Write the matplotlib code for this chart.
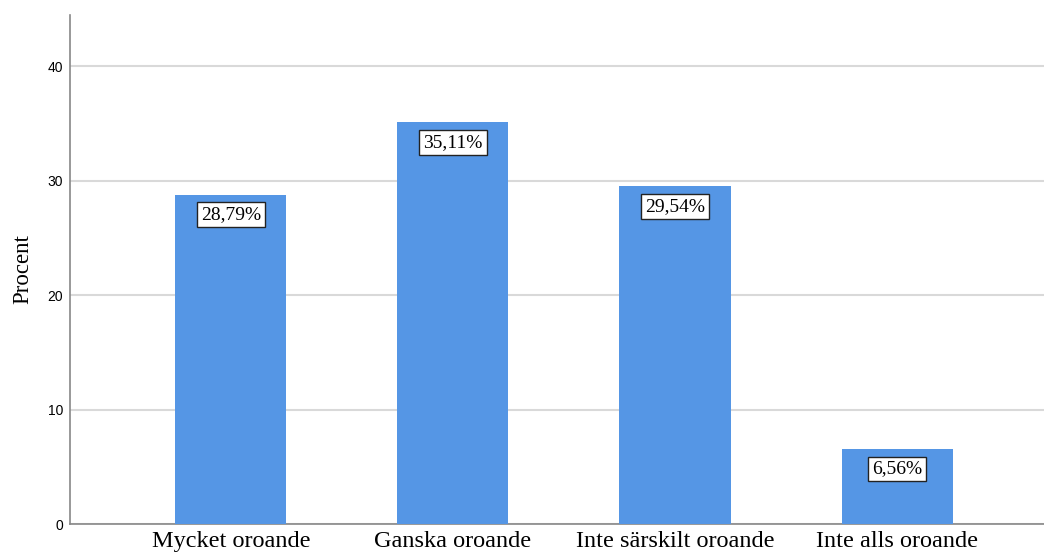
import numpy as np
import matplotlib.pyplot as plt

# data
kategorier = ['Mycket oroande', 'Ganska oroande', 'Inte särskilt oroande', 'Inte alls oroande']
procent = [28.79, 35.11, 29.54, 6.56]
etiketter = ['28,79%', '35,11%', '29,54%', '6,56%']

fig = plt.figure(figsize=(10.44, 5.54), dpi=100)
ax = fig.add_axes([70/1044, 1 - 524/554, 1 - 70/1044, (524 - 15)/554])

x = np.arange(len(kategorier))
ax.bar(x, procent, width=0.5, color='#5596e5', zorder=3)

for xi, v, lab in zip(x, procent, etiketter):
    ax.annotate(lab, (xi, v), xytext=(0, -20), textcoords='offset pixels',
                ha='center', va='center', fontsize=14, family='Liberation Serif',
                bbox=dict(boxstyle='square,pad=0.2', fc='white', ec='#222222', lw=1),
                zorder=4)

ax.set_xlim(-0.725, 3.662)
ax.set_ylim(0, 44.5)
ax.set_yticks([0, 10, 20, 30, 40])
ax.set_xticks(x)
ax.set_xticklabels(kategorier, family='Liberation Serif', fontsize=17.5)
for t in ax.get_yticklabels():
    t.set_family('Liberation Sans')
    t.set_fontsize(10)
ax.tick_params(axis='both', length=0)
ax.tick_params(axis='x', pad=5)
ax.tick_params(axis='y', pad=5)
ax.yaxis.grid(True, color='#d9d9d9', lw=1.5, zorder=0)
ax.set_ylabel('Procent', family='Liberation Serif', fontsize=16.5, labelpad=10)

for s in ['top', 'right']:
    ax.spines[s].set_visible(False)
for s in ['left', 'bottom']:
    ax.spines[s].set_color('#888888')
    ax.spines[s].set_linewidth(1.2)

fig.savefig('out.png', dpi=100)
